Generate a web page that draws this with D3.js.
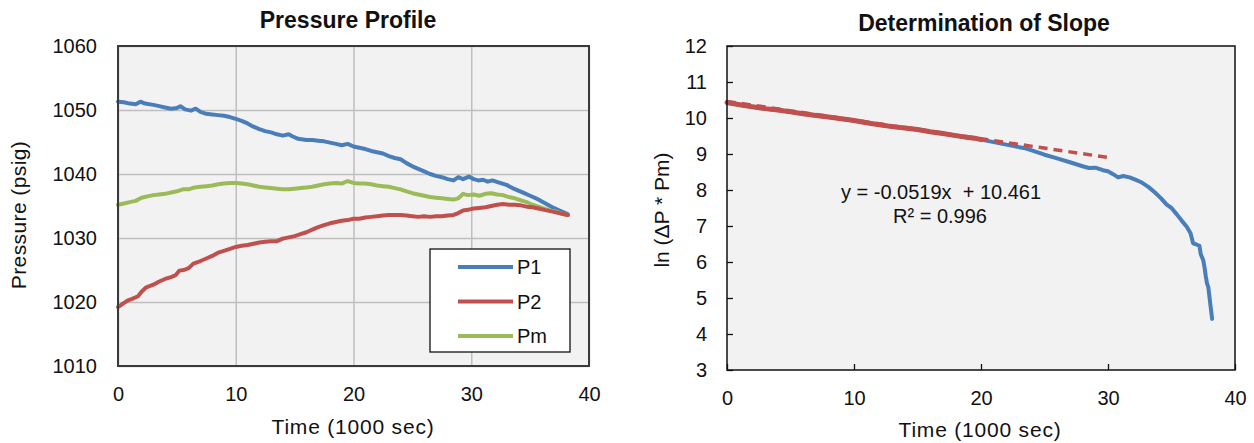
<!DOCTYPE html>
<html>
<head>
<meta charset="utf-8">
<script src="https://cdn.jsdelivr.net/npm/d3@7"></script>
<style>
  html, body { margin: 0; padding: 0; background: #ffffff; }
  svg { display: block; font-family: "Liberation Sans", Arial, sans-serif; }
  .pre { white-space: pre; }
</style>
</head>
<body>
<svg id="chart" width="1254" height="443"></svg>
<script>
// ---- Pressure profile (time in 1000 s, pressure in psig) ----
const p1Times = [0,0.5,1,1.5,1.9,2.3,3,3.5,4,4.5,5,5.3,5.7,6.2,6.6,7,7.5,8,8.5,9,9.5,10,10.5,11,11.5,12,12.5,13,13.5,14,14.5,14.8,15.3,16,16.5,17,17.5,18,18.5,19,19.5,20,20.5,21,21.5,22,22.5,23,23.5,24,24.5,25,25.5,26,26.5,27,27.5,28,28.5,28.9,29.3,29.8,30.2,30.6,31,31.4,31.8,32.3,33,33.5,34,34.5,35,35.5,36,36.5,37,37.5,38,38.2];
const p1Values = [1051.3,1051.2,1051.0,1050.9,1051.3,1051.0,1050.8,1050.6,1050.4,1050.2,1050.3,1050.6,1050.1,1049.9,1050.2,1049.7,1049.4,1049.3,1049.2,1049.1,1048.9,1048.6,1048.3,1047.9,1047.4,1047.0,1046.7,1046.5,1046.2,1046.0,1046.2,1045.9,1045.5,1045.3,1045.3,1045.2,1045.1,1044.9,1044.7,1044.5,1044.7,1044.3,1044.1,1043.9,1043.6,1043.4,1043.2,1042.8,1042.5,1042.3,1041.7,1041.2,1040.8,1040.4,1040.0,1039.7,1039.5,1039.2,1039.0,1039.5,1039.2,1039.6,1039.2,1039.0,1039.1,1038.8,1039.0,1038.7,1038.3,1037.8,1037.4,1037.0,1036.6,1036.2,1035.7,1035.2,1034.7,1034.3,1033.9,1033.7];

const p2Times = [0,0.4,0.8,1.2,1.7,2.0,2.4,3.0,3.5,4.0,4.5,4.9,5.2,5.6,6.0,6.4,7.0,7.5,8,8.5,9,9.5,10,10.5,11,11.5,12,12.5,13,13.5,14,14.5,15,15.5,16,16.5,17,17.5,18,18.5,19,19.5,20,20.5,21,21.5,22,22.5,23,23.5,24,24.5,25,25.5,26,26.5,27,27.5,28,28.5,28.9,29.3,29.7,30.2,30.7,31.2,31.7,32.2,32.7,33.2,33.7,34.2,34.7,35.2,35.7,36.2,36.7,37.2,37.7,38.2];
const p2Values = [1019.2,1019.7,1020.2,1020.5,1020.9,1021.6,1022.3,1022.7,1023.2,1023.6,1023.9,1024.2,1024.9,1025.0,1025.3,1026.0,1026.4,1026.8,1027.2,1027.7,1028.0,1028.3,1028.6,1028.8,1028.9,1029.1,1029.3,1029.4,1029.5,1029.5,1029.9,1030.1,1030.3,1030.6,1030.9,1031.3,1031.7,1032.0,1032.3,1032.5,1032.7,1032.8,1033.0,1033.0,1033.2,1033.3,1033.4,1033.5,1033.6,1033.6,1033.6,1033.5,1033.4,1033.3,1033.4,1033.3,1033.4,1033.4,1033.5,1033.6,1033.9,1034.3,1034.4,1034.6,1034.7,1034.8,1035.0,1035.2,1035.3,1035.2,1035.2,1035.1,1034.9,1034.8,1034.6,1034.4,1034.2,1034.0,1033.8,1033.6];

const pmTimes = [0,0.5,1,1.5,2,2.5,3,3.5,4,4.5,5,5.5,6,6.5,7,7.5,8,8.5,9,9.5,10,10.5,11,11.5,12,12.5,13,13.5,14,14.5,15,15.5,16,16.5,17,17.5,18,18.5,19,19.5,20,20.5,21,21.5,22,22.5,23,23.5,24,24.5,25,25.5,26,26.5,27,27.5,28,28.5,28.9,29.3,29.7,30.2,30.7,31.2,31.7,32.2,32.7,33.2,33.7,34.2,34.7,35.2,35.7,36.2,36.7,37.2,37.7,38.2];
const pmValues = [1035.2,1035.4,1035.6,1035.8,1036.3,1036.5,1036.7,1036.8,1036.9,1037.1,1037.3,1037.6,1037.6,1037.9,1038.0,1038.1,1038.2,1038.4,1038.5,1038.6,1038.6,1038.5,1038.4,1038.2,1038.0,1037.9,1037.8,1037.7,1037.6,1037.6,1037.7,1037.8,1037.9,1038.0,1038.2,1038.4,1038.5,1038.6,1038.5,1038.9,1038.6,1038.5,1038.5,1038.4,1038.2,1038.1,1038.0,1037.8,1037.6,1037.3,1037.0,1036.8,1036.6,1036.4,1036.3,1036.2,1036.1,1036.0,1036.2,1036.9,1036.7,1036.8,1036.6,1036.9,1037.0,1036.8,1036.7,1036.4,1036.2,1035.9,1035.6,1035.2,1034.9,1034.6,1034.3,1034.1,1033.8,1033.6];

const seriesNames = ["P1", "P2", "Pm"];
const seriesColors = ["#4a7ebb", "#c0504d", "#9bbb59"];

const pressureTicks = [1010, 1020, 1030, 1040, 1050, 1060];
const timeTicks = [0, 10, 20, 30, 40];

// ---- ln(dP * Pm) versus time ----
const lnTimes = [0,1,2,3,4,5,6,7,8,9,10,11,12,13,14,15,16,17,18,19,19.5,20,21,22,22.5,23,23.5,24,25,26,27,28,28.5,29,29.6,30,30.4,30.8,31.2,31.7,32.2,32.7,33.2,33.7,34.2,34.6,35.0,35.4,35.8,36.2,36.5,36.7,37.0,37.2,37.3,37.5,37.6,37.7,37.8,37.9,38.0,38.1,38.2];
const lnValues = [10.43,10.37,10.31,10.26,10.22,10.17,10.12,10.07,10.03,9.98,9.93,9.87,9.81,9.76,9.72,9.68,9.62,9.57,9.51,9.46,9.44,9.40,9.33,9.26,9.23,9.19,9.16,9.10,8.98,8.88,8.77,8.66,8.61,8.62,8.55,8.52,8.44,8.35,8.39,8.35,8.28,8.20,8.08,7.93,7.76,7.60,7.50,7.33,7.15,6.98,6.80,6.52,6.48,6.45,6.22,6.05,5.85,5.60,5.40,5.30,5.00,4.70,4.42];
const fitEndTime = 20;           // points used for the regression
const fitSlope = -0.0519;
const fitIntercept = 10.461;
const fitRange = [0, 30];
const fitLabel = "y = -0.0519x  + 10.461";
const r2Label = "R\u00B2 = 0.996";
const lnTicks = [3, 4, 5, 6, 7, 8, 9, 10, 11, 12];

const svg = d3.select("#chart");
const FONT = 20;
const INK = "#111";

function zip(t, v) { return t.map((x, i) => ({ t: x, v: v[i] })).filter(d => d.v !== undefined); }

function styleTicks(g, lineColor, lineWidth) {
  g.select(".domain").remove();
  g.selectAll(".tick line").attr("stroke", lineColor).attr("stroke-width", lineWidth);
  g.selectAll(".tick text").attr("font-size", FONT).attr("fill", INK)
    .attr("font-family", "Liberation Sans, Arial, sans-serif");
}

// ================= Left panel: Pressure Profile =================
const L = { x0: 118, x1: 589, y0: 46, y1: 366 };
const xL = d3.scaleLinear().domain([0, 40]).range([L.x0, L.x1]);
const yL = d3.scaleLinear().domain([1010, 1060]).range([L.y1, L.y0]);

const left = svg.append("g");
left.append("rect")
  .attr("x", L.x0).attr("y", L.y0)
  .attr("width", L.x1 - L.x0).attr("height", L.y1 - L.y0)
  .attr("fill", "#f2f2f2");

left.append("g")
  .attr("transform", `translate(${L.x0},0)`)
  .call(d3.axisLeft(yL).tickValues(pressureTicks).tickFormat(d3.format("d"))
    .tickSize(-(L.x1 - L.x0)).tickPadding(21))
  .call(g => styleTicks(g, "#bfbfbf", 1.5));
left.append("g")
  .attr("transform", `translate(0,${L.y1})`)
  .call(d3.axisBottom(xL).tickValues(timeTicks).tickFormat(d3.format("d"))
    .tickSize(-(L.y1 - L.y0)).tickPadding(21))
  .call(g => styleTicks(g, "#bfbfbf", 1.5));

const lineL = d3.line().x(d => xL(d.t)).y(d => yL(d.v));
const pressureSeries = [zip(p1Times, p1Values), zip(p2Times, p2Values), zip(pmTimes, pmValues)];
// P1 and Pm first, then P2 on top where they meet at the end
[0, 2, 1].forEach(i => {
  left.append("path")
    .datum(pressureSeries[i])
    .attr("d", lineL)
    .attr("fill", "none")
    .attr("stroke", seriesColors[i])
    .attr("stroke-width", 4)
    .attr("stroke-linejoin", "round")
    .attr("stroke-linecap", "round");
});

left.append("rect")
  .attr("x", L.x0).attr("y", L.y0)
  .attr("width", L.x1 - L.x0).attr("height", L.y1 - L.y0)
  .attr("fill", "none").attr("stroke", "#3a3a3a").attr("stroke-width", 2);

// legend
const leg = left.append("g");
leg.append("rect").attr("x", 430).attr("y", 249).attr("width", 140).attr("height", 103)
  .attr("fill", "#ffffff").attr("stroke", INK).attr("stroke-width", 1.3);
seriesNames.forEach((name, i) => {
  const cy = 267 + i * 34.5;
  leg.append("line").attr("x1", 458).attr("x2", 513).attr("y1", cy).attr("y2", cy)
    .attr("stroke", seriesColors[i]).attr("stroke-width", 4);
  leg.append("text").attr("x", 517).attr("y", cy).attr("dy", "0.36em")
    .attr("font-size", FONT).attr("fill", INK).text(name);
});

left.append("text").attr("x", 348).attr("y", 28).attr("text-anchor", "middle")
  .attr("font-size", 23).attr("font-weight", "bold").attr("fill", INK).text("Pressure Profile");
left.append("text").attr("x", 353).attr("y", 427).attr("dy", "0.35em").attr("text-anchor", "middle")
  .attr("font-size", 21).attr("letter-spacing", 0.8).attr("fill", INK).text("Time (1000 sec)");
left.append("text").attr("transform", "translate(19,215) rotate(-90)").attr("dy", "0.35em")
  .attr("text-anchor", "middle").attr("font-size", 21).attr("letter-spacing", 0.4)
  .attr("fill", INK).text("Pressure (psig)");

// ================= Right panel: Determination of Slope =================
const R = { x0: 727, x1: 1235, y0: 46, y1: 370 };
const xR = d3.scaleLinear().domain([0, 40]).range([R.x0, R.x1]);
const yR = d3.scaleLinear().domain([3, 12]).range([R.y1, R.y0]);

const right = svg.append("g");
right.append("rect")
  .attr("x", R.x0).attr("y", R.y0)
  .attr("width", R.x1 - R.x0).attr("height", R.y1 - R.y0)
  .attr("fill", "#f2f2f2");

right.append("g")
  .attr("transform", `translate(${R.x0},0)`)
  .call(d3.axisLeft(yR).tickValues(lnTicks).tickFormat(d3.format("d")).tickSize(-6).tickPadding(20))
  .call(g => styleTicks(g, INK, 1.3));
right.append("g")
  .attr("transform", `translate(0,${R.y1})`)
  .call(d3.axisBottom(xR).tickValues(timeTicks).tickFormat(d3.format("d")).tickSize(-6).tickPadding(21))
  .call(g => styleTicks(g, INK, 1.3));

const lineR = d3.line().x(d => xR(d.t)).y(d => yR(d.v));
const lnSeries = zip(lnTimes, lnValues);
const fitSeries = lnSeries.filter(d => d.t <= fitEndTime);

right.append("path").datum(lnSeries).attr("d", lineR)
  .attr("fill", "none").attr("stroke", "#4a7ebb").attr("stroke-width", 4)
  .attr("stroke-linejoin", "round").attr("stroke-linecap", "round");

// linear trend line of the fitted section, extended to t = 30
const trend = fitRange.map(t => ({ t: t, v: fitSlope * t + fitIntercept }));
right.append("path").datum(trend).attr("d", lineR)
  .attr("fill", "none").attr("stroke", "#c0504d").attr("stroke-width", 3.5)
  .attr("stroke-dasharray", "9,6");

right.append("path").datum(fitSeries).attr("d", lineR)
  .attr("fill", "none").attr("stroke", "#c0504d").attr("stroke-width", 5)
  .attr("stroke-linejoin", "round").attr("stroke-linecap", "round");

right.append("rect")
  .attr("x", R.x0).attr("y", R.y0)
  .attr("width", R.x1 - R.x0).attr("height", R.y1 - R.y0)
  .attr("fill", "none").attr("stroke", INK).attr("stroke-width", 1.5);

right.append("text").attr("class", "pre").attr("x", 941).attr("y", 192).attr("dy", "0.35em")
  .attr("text-anchor", "middle").attr("font-size", FONT).attr("fill", INK).text(fitLabel);
right.append("text").attr("x", 940).attr("y", 216).attr("dy", "0.35em")
  .attr("text-anchor", "middle").attr("font-size", FONT).attr("fill", INK).text(r2Label);

right.append("text").attr("x", 984).attr("y", 31).attr("text-anchor", "middle")
  .attr("font-size", 23).attr("font-weight", "bold").attr("fill", INK).text("Determination of Slope");
right.append("text").attr("x", 980).attr("y", 430).attr("dy", "0.35em").attr("text-anchor", "middle")
  .attr("font-size", 21).attr("letter-spacing", 0.8).attr("fill", INK).text("Time (1000 sec)");
right.append("text").attr("transform", "translate(662,210) rotate(-90)").attr("dy", "0.35em")
  .attr("text-anchor", "middle").attr("font-size", 21).attr("fill", INK).text("ln (\u0394P * Pm)");
</script>
</body>
</html>
